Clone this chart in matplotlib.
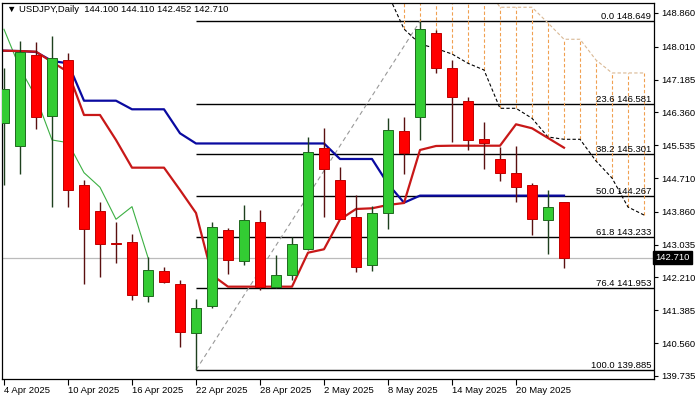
"""USDJPY daily candles with Ichimoku lines and Fibonacci retracement."""

import matplotlib

matplotlib.use("Agg")
import matplotlib.pyplot as plt

plt.rcParams["font.family"] = ["Liberation Sans", "DejaVu Sans"]

# Daily OHLC, 4 Apr 2025 .. 23 May 2025 (one entry per trading day)
opens = [146.09, 145.52, 147.80, 146.276, 147.676, 144.535, 143.881, 143.08, 143.095, 141.752,
         142.366, 142.047, 140.807, 141.494, 143.404, 142.625, 143.605, 141.964, 142.265, 142.919,
         145.457, 144.66, 143.723, 142.524, 143.824, 145.892, 146.236, 148.347, 147.468, 146.653,
         145.683, 145.181, 144.829, 144.535, 143.655, 144.10]
highs = [147.475, 148.154, 148.136, 148.287, 147.845, 144.66, 144.10, 143.612, 143.303, 142.733,
         142.481, 142.147, 141.67, 143.612, 143.446, 144.032, 143.906, 142.776, 143.235, 145.749,
         145.96, 144.995, 144.283, 144.007, 146.211, 146.236, 148.649, 148.43, 147.676, 146.754,
         146.126, 145.497, 145.522, 144.592, 144.409, 144.11]
lows = [144.535, 144.81, 145.935, 143.99, 143.99, 142.047, 142.215, 142.582, 141.645, 141.602,
        142.08, 140.471, 139.885, 141.436, 142.298, 142.524, 141.896, 141.94, 142.147, 142.901,
        143.723, 143.673, 142.356, 142.381, 143.421, 144.811, 145.666, 147.357, 145.623, 145.414,
        144.929, 144.635, 144.10, 143.278, 142.80, 142.452]
closes = [146.95, 147.885, 146.251, 147.719, 144.409, 143.436, 143.06, 143.05, 141.777, 142.398,
          142.104, 140.833, 141.436, 143.487, 142.65, 143.648, 141.964, 142.265, 143.044, 145.357,
          144.929, 143.688, 142.481, 143.824, 145.917, 145.346, 148.448, 147.468, 146.739, 145.666,
          145.598, 144.844, 144.477, 143.673, 143.99, 142.71]

# Ichimoku lines
tenkan = [147.91, 147.90, 147.885, 147.626, 147.375, 146.294, 146.294, 145.666, 144.97, 144.97,
          144.97, 144.409, 143.831, 142.273, 141.979, 141.979, 141.979, 141.979, 141.979, 142.833,
          142.919, 143.667, 143.931, 143.949, 144.032, 144.082, 145.414, 145.515, 145.522, 145.522,
          145.522, 145.522, 146.06, 145.96, 145.716, 145.472]
kijun = [147.91, 147.90, 147.877, 147.651, 147.593, 146.653, 146.653, 146.653, 146.437, 146.437,
         146.437, 145.834, 145.578, 145.578, 145.578, 145.578, 145.578, 145.578, 145.578, 145.578,
         145.578, 145.188, 145.188, 145.188, 144.56, 144.09, 144.267, 144.267, 144.267, 144.267,
         144.267, 144.267, 144.267, 144.267, 144.267, 144.267]
# cloud spans, bars 24..40 (shifted forward)
span_start = 24
span_black = [149.33, 148.455, 148.078, 147.965, 147.827, 147.593, 147.425, 146.462, 146.462,
              146.211, 145.741, 145.683, 145.683, 145.138, 144.71, 143.98, 143.78]
span_tan = [149.6, 149.6, 149.6, 149.6, 149.6, 149.6, 149.6, 149.001, 149.001,
            149.001, 148.606, 148.197, 148.197, 147.676, 147.35, 147.35, 147.35]

date_idx = [0, 4, 8, 12, 16, 20, 24, 28, 32]
date_labels = ["4 Apr 2025", "10 Apr 2025", "16 Apr 2025", "22 Apr 2025", "28 Apr 2025",
               "2 May 2025", "8 May 2025", "14 May 2025", "20 May 2025"]
price_ticks = [148.860, 148.010, 147.185, 146.360, 145.535, 144.710, 143.860, 143.035,
               142.210, 141.385, 140.560, 139.735]

fib_pct = ["0.0", "23.6", "38.2", "50.0", "61.8", "76.4", "100.0"]
fib_price = [148.649, 146.581, 145.301, 144.267, 143.233, 141.953, 139.885]
fib_low_bar, fib_high_bar = 12, 26

last_price = 142.710
header = "\u25bc USDJPY,Daily  144.100 144.110 142.452 142.710"

fs = 6.8

fig = plt.figure(figsize=(7, 4), dpi=100)
ax = fig.add_axes([2 / 700, 20.7 / 400, 652 / 700, 376.6 / 400])
ax.set_xlim(-0.125, 40.625)
ax.set_ylim(139.651, 149.116)

n = len(closes)
xs = list(range(n))

# Fibonacci levels and trend line
for pct, lvl in zip(fib_pct, fib_price):
    ax.hlines(lvl, fib_low_bar, 40.625, colors="black", lw=1.0, zorder=1)
    ax.text(0.996, lvl, f"{pct} {lvl:.3f}", transform=ax.get_yaxis_transform(),
            ha="right", va="bottom", fontsize=fs, zorder=6)
ax.plot([fib_low_bar, fib_high_bar], [fib_price[-1], fib_price[0]], color="#999999",
        lw=0.8, ls=(0, (4, 3)), zorder=1)

# current price line
ax.axhline(last_price, color="#bbbbbb", lw=0.9, zorder=0.5)

# cloud
span_x = list(range(span_start, span_start + len(span_black)))
for x, a, b in zip(span_x, span_black, span_tan):
    if x == span_start:
        continue
    ax.vlines(x, min(a, b), max(a, b), colors="#f0a050", lw=0.8, ls=(0, (3, 2)), zorder=1)
ax.plot(span_x, span_tan, color="#d9b894", lw=0.8, ls=(0, (3, 2)), zorder=1.5)
ax.plot(span_x, span_black, color="black", lw=0.8, ls=(0, (3, 2)), zorder=1.5)

# Ichimoku lines
ax.plot(xs[:10], closes[26:], color="#3cb043", lw=0.8, zorder=2)
ax.plot(xs, kijun, color="#0a0aa0", lw=1.6, zorder=2)
ax.plot(xs, tenkan, color="#c81818", lw=1.6, zorder=2)

# candles
up = [c >= o for o, c in zip(opens, closes)]
wick_cols = ["#1e401e" if u else "#5a1010" for u in up]
ax.vlines(xs, lows, highs, colors=wick_cols, lw=1.0, zorder=3)
bottoms = [min(o, c) for o, c in zip(opens, closes)]
heights = [max(abs(c - o), 0.02) for o, c in zip(opens, closes)]
ax.bar(xs, heights, bottom=bottoms, width=0.65,
       color=["#33cc33" if u else "#ff0000" for u in up],
       edgecolor=["#1f6a1f" if u else "#c00000" for u in up], lw=0.7, zorder=4)

# axes styling
for sp in ax.spines.values():
    sp.set_color("black")
    sp.set_linewidth(0.9)
ax.yaxis.tick_right()
ax.set_yticks(price_ticks)
ax.set_yticklabels([f"{p:.3f}" for p in price_ticks])
ax.tick_params(axis="y", direction="out", length=3, width=0.8, pad=2, labelsize=fs)
ax.set_xticks(date_idx)
ax.set_xticklabels(date_labels, ha="left")
ax.tick_params(axis="x", direction="out", length=4, width=0.8, pad=1, labelsize=fs)

ax.text(1.002, last_price, f"{last_price:.3f}", transform=ax.get_yaxis_transform(),
        ha="left", va="center", fontsize=fs, color="white", zorder=7, clip_on=False,
        bbox=dict(boxstyle="square,pad=0.2", facecolor="black", edgecolor="black"))

fig.text(7 / 700, 1 - 10 / 400, header, ha="left", va="center", fontsize=fs, zorder=10)

fig.savefig("out.png", dpi=100)
